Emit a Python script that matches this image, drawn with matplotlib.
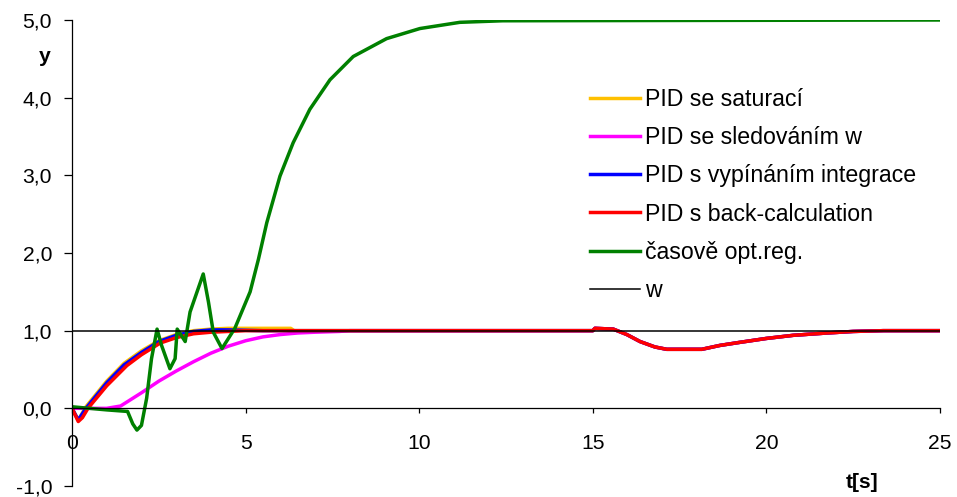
import matplotlib
matplotlib.use("Agg")
import matplotlib.pyplot as plt
import numpy as np

plt.rcParams['font.family'] = ['Liberation Sans', 'DejaVu Sans']

# ---- data ----
tail_t = [8.0, 15.0, 15.06, 15.59, 15.98, 16.36, 16.79, 17.13, 18.14, 18.66, 19.24, 20.0, 20.77, 21.74, 22.5, 23.37, 25.0]
tail_y = [1.0, 1.0, 1.03, 1.02, 0.95, 0.86, 0.79, 0.76, 0.76, 0.81, 0.85, 0.90, 0.94, 0.97, 0.99, 1.0, 1.0]

sat_t = [0, 0.18, 0.4, 1.0, 1.5, 2.0, 2.5, 3.0, 3.5, 4.0, 4.5, 6.3, 6.4]
sat_y = [0, -0.15, 0.02, 0.35, 0.58, 0.74, 0.87, 0.95, 1.0, 1.02, 1.03, 1.03, 1.0]

trk_t = [0, 1.0, 1.4, 2.0, 2.5, 3.0, 3.5, 4.0, 4.5, 5.0, 5.5, 6.0, 6.5, 7.0, 7.7]
trk_y = [0, 0.0, 0.03, 0.2, 0.35, 0.48, 0.6, 0.71, 0.8, 0.87, 0.92, 0.95, 0.97, 0.98, 0.99]

cond_t = [0, 0.18, 0.4, 1.0, 1.5, 2.0, 2.5, 3.0, 3.5, 4.0, 4.5, 5.5]
cond_y = [0, -0.15, 0.0, 0.33, 0.56, 0.72, 0.86, 0.94, 0.99, 1.01, 1.01, 1.0]

bc_t = [0, 0.18, 0.3, 0.46, 1.0, 1.58, 2.0, 2.54, 3.0, 3.5, 4.0, 4.5, 5.0]
bc_y = [0, -0.17, -0.12, 0.0, 0.29, 0.55, 0.69, 0.84, 0.91, 0.96, 0.98, 0.99, 1.0]

opt_t = [0, 0.5, 1.0, 1.6, 1.75, 1.87, 2.0, 2.15, 2.29, 2.45, 2.58, 2.82, 2.97, 3.03, 3.26,
         3.40, 3.78, 3.93, 4.07, 4.32, 4.69, 5.13, 5.37, 5.61, 5.99, 6.37, 6.85, 7.43,
         8.10, 9.06, 10.02, 11.17, 12.4, 25.0]
opt_y = [0.02, 0.0, -0.02, -0.04, -0.2, -0.28, -0.22, 0.13, 0.64, 1.02, 0.81, 0.51, 0.64, 1.02, 0.86,
         1.24, 1.73, 1.37, 0.98, 0.77, 1.03, 1.5, 1.92, 2.39, 2.99, 3.42, 3.85, 4.23,
         4.53, 4.76, 4.89, 4.97, 4.99, 5.0]

w_t = [0, 25]
w_y = [1.0, 1.0]

labels = ["PID se saturací", "PID se sledováním w", "PID s vypínáním integrace",
          "PID s back-calculation", "časově opt.reg.", "w"]
colors = ["#FFC000", "#FF00FF", "#0000FF", "#FF0000", "#008000", "#000000"]

xticks = [0, 5, 10, 15, 20, 25]
yticks = [-1, 0, 1, 2, 3, 4, 5]
yticklabels = ["-1,0", "0,0", "1,0", "2,0", "3,0", "4,0", "5,0"]

# ---- figure ----
W, H = 957, 497
fig = plt.figure(figsize=(W / 100, H / 100), dpi=100)
ax = fig.add_axes([72 / W, 11 / H, 868 / W, 466 / H])

series = [
    (sat_t + tail_t, sat_y + tail_y),
    (trk_t + tail_t, trk_y + tail_y),
    (cond_t + tail_t, cond_y + tail_y),
    (bc_t + tail_t, bc_y + tail_y),
    (opt_t, opt_y),
    (w_t, w_y),
]
handles = []
for (t, y), lab, c in zip(series, labels, colors):
    lw = 1.1 if lab == "w" else 2.5
    h, = ax.plot(t, y, color=c, lw=lw, label=lab, solid_joinstyle='round')
    handles.append(h)

ax.set_xlim(0, 25)
ax.set_ylim(-1, 5)
ax.spines['top'].set_visible(False)
ax.spines['right'].set_visible(False)
ax.spines['bottom'].set_position(('data', 0))
ax.spines['left'].set_linewidth(0.9)
ax.spines['bottom'].set_linewidth(0.9)

TFS = 15.2
ax.set_xticks(xticks)
ax.set_xticklabels([str(v) for v in xticks])
ax.set_yticks(yticks)
ax.set_yticklabels(yticklabels)
ax.tick_params(axis='x', direction='out', length=3.6, width=0.9, pad=15, labelsize=TFS)
ax.tick_params(axis='y', direction='out', length=5.8, width=0.9, pad=8.5, labelsize=TFS)

fig.text(45 / W, 1 - 57 / H, "y", fontsize=TFS, fontweight='bold', ha='center', va='center')
fig.text(862 / W, 1 - 482 / H, "t[s]", fontsize=TFS, fontweight='bold', ha='center', va='center')

LFS = 16.7
leg = ax.legend(handles=handles, loc='upper left', bbox_to_anchor=(590 / W, 1 - 88 / H),
                bbox_transform=fig.transFigure, frameon=False, fontsize=LFS,
                handlelength=2.15, handletextpad=0.21, labelspacing=0.655,
                borderpad=0, borderaxespad=0)

fig.savefig("out.png", dpi=100)
